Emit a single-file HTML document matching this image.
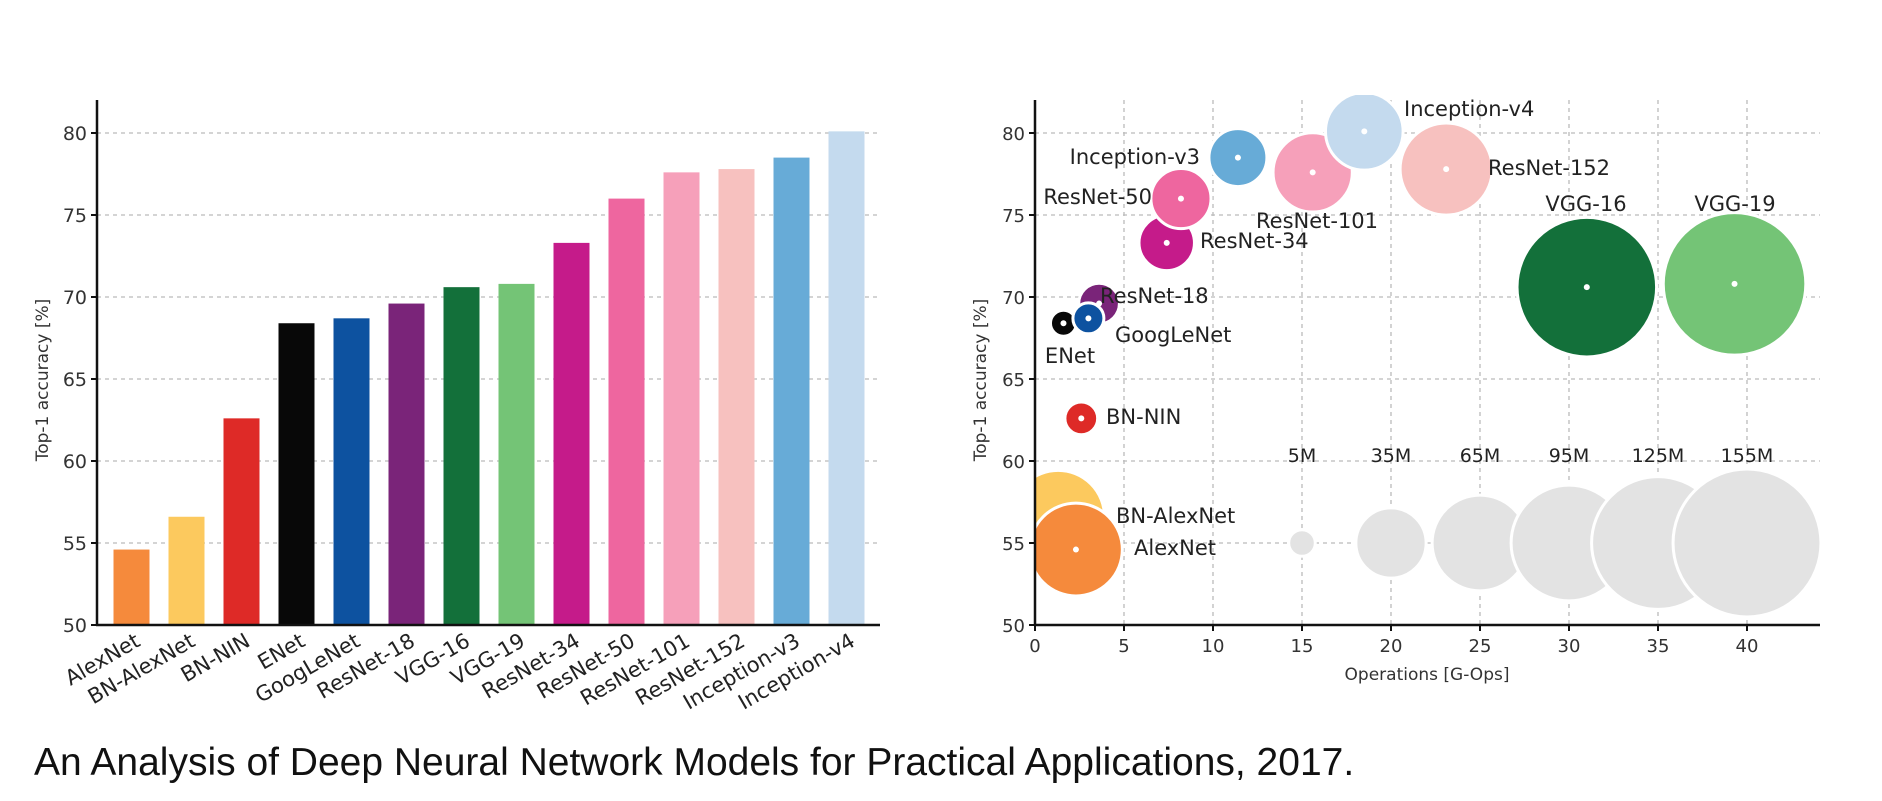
<!DOCTYPE html>
<html><head><meta charset="utf-8"><style>
html,body{margin:0;padding:0;background:#fff;}
svg{display:block;font-family:"DejaVu Sans","Liberation Sans",sans-serif;}
</style></head><body>
<svg id="s" width="1882" height="801" viewBox="0 0 1882 801">
<g id="left"></g>
<g id="right"></g>
<text x="34" y="775" font-family="Liberation Sans, sans-serif" font-size="39" fill="#111">An Analysis of Deep Neural Network Models for Practical Applications, 2017.</text>
</svg>
<script>
const models=["AlexNet","BN-AlexNet","BN-NIN","ENet","GoogLeNet","ResNet-18","VGG-16","VGG-19","ResNet-34","ResNet-50","ResNet-101","ResNet-152","Inception-v3","Inception-v4"];
const accuracy=[54.6,56.6,62.6,68.4,68.7,69.6,70.6,70.8,73.3,76.0,77.6,77.8,78.5,80.1];
const ops=[2.3,1.3,2.6,1.6,3.0,3.6,31.0,39.3,7.4,8.2,15.6,23.1,11.4,18.5];
const params=[61,61,7.6,0.4,6.8,11.7,138,144,21.8,25.6,44.5,60.2,23.8,42.7];
const colors=["#f58a3c","#fcc95e","#de2a27","#080808","#0d52a0","#7a2479","#13703a","#74c476","#c51b8a","#ee669f","#f6a0ba","#f7c1bf","#67abd7","#c4daee"];
const yTicks=[50,55,60,65,70,75,80];
const xTicks=[0,5,10,15,20,25,30,35,40];
const legendParams=[5,35,65,95,125,155];
const legendOps=[15,20,25,30,35,40];
const legendLabels=["5M","35M","65M","95M","125M","155M"];
const NS="http://www.w3.org/2000/svg";
function mk(p,tag,at,txt){const e=document.createElementNS(NS,tag);for(const k in at)e.setAttribute(k,at[k]);if(txt!==undefined)e.textContent=txt;p.appendChild(e);return e;}
const yS=v=>625-(v-50)*16.4;
// LEFT
const L=document.getElementById('left');
const bx=i=>131.5+i*55;
yTicks.forEach(t=>{
  if(t>50){const g=mk(L,'line',{x1:97,x2:880,y1:yS(t),y2:yS(t),stroke:'#bbb','stroke-dasharray':'4,4','stroke-width':1.3});
  
  }
  const tk=mk(L,'line',{x1:91,x2:97,y1:yS(t),y2:yS(t),stroke:'#111','stroke-width':2});
  
  
  const lb=mk(L,'text',{x:87,y:yS(t)+7,'text-anchor':'end','font-size':19,fill:'#333'},t);
  
  
});
models.forEach((m,i)=>{
  const r=mk(L,'rect',{x:bx(i)-18,y:yS(accuracy[i]),width:36,height:625-yS(accuracy[i]),fill:colors[i]});
  
  
  const t=mk(L,'text',{x:0,y:0,'text-anchor':'end','font-size':21,fill:'#222',transform:`translate(${bx(i)+10},${645}) rotate(-30)`},m);
  
  
});
let a=mk(L,'line',{x1:97,x2:97,y1:100,y2:626,stroke:'#111','stroke-width':2.5});


a=mk(L,'line',{x1:96,x2:880,y1:625,y2:625,stroke:'#111','stroke-width':2.5});


a=mk(L,'text',{x:0,y:0,'text-anchor':'middle','font-size':17,fill:'#333',transform:'translate(48,380) rotate(-90)'},'Top-1 accuracy [%]');


// RIGHT
const R=document.getElementById('right');
const xS=v=>1035+v*17.8;
const rad=p=>Math.max(13,5.94*Math.sqrt(p));
xTicks.forEach(t=>{
  if(t>0){const g=mk(R,'line',{x1:xS(t),x2:xS(t),y1:100,y2:625,stroke:'#bbb','stroke-dasharray':'4,4','stroke-width':1.3});
  
  }
  const tk=mk(R,'line',{x1:xS(t),x2:xS(t),y1:625,y2:631,stroke:'#111','stroke-width':2});
  
  
  const lb=mk(R,'text',{x:xS(t),y:652,'text-anchor':'middle','font-size':18,fill:'#333'},t);
  
  
});
yTicks.forEach(t=>{
  if(t>50){const g=mk(R,'line',{x1:1035,x2:1820,y1:yS(t),y2:yS(t),stroke:'#bbb','stroke-dasharray':'4,4','stroke-width':1.3});
  
  }
  const tk=mk(R,'line',{x1:1029,x2:1035,y1:yS(t),y2:yS(t),stroke:'#111','stroke-width':2});
  
  
  const lb=mk(R,'text',{x:1025,y:yS(t)+7,'text-anchor':'end','font-size':18,fill:'#333'},t);
  
  
});
const clip=mk(R,'clipPath',{id:'pc'});mk(clip,'rect',{x:1035,y:95,width:785,height:530});
const P=mk(R,'g',{'clip-path':'url(#pc)'});
legendParams.forEach((p,i)=>{
  const c=mk(P,'circle',{cx:xS(legendOps[i]),cy:yS(55),r:rad(p),fill:'#e3e3e3',stroke:'#fff','stroke-width':3});
  
  
  const t=mk(R,'text',{x:xS(legendOps[i]),y:462,'text-anchor':'middle','font-size':19,fill:'#222'},legendLabels[i]);
  
  
});
const order=[1,0,2,3,5,4,6,7,8,9,12,10,11,13];
order.forEach(i=>{
  const c=mk(P,'circle',{cx:xS(ops[i]),cy:yS(accuracy[i]),r:rad(params[i]),fill:colors[i],stroke:'#fff','stroke-width':3});
  
  
  const d=mk(P,'circle',{cx:xS(ops[i]),cy:yS(accuracy[i]),r:3,fill:'#fff'});
  
  
});
const lab=[[1134,555,'start'],[1116,523,'start'],[1106,424,'start'],[1070,363,'middle'],[1115,342,'start'],[1100,303,'start'],[1586,211,'middle'],[1735,211,'middle'],[1200,248,'start'],[1152,204,'end'],[1256,228,'start'],[1488,175,'start'],[1200,164,'end'],[1404,116,'start']];
models.forEach((m,i)=>{
  const t=mk(R,'text',{x:lab[i][0],y:lab[i][1],'text-anchor':lab[i][2],'font-size':21,fill:'#222'},m);
  
  
});
a=mk(R,'line',{x1:1035,x2:1035,y1:100,y2:626,stroke:'#111','stroke-width':2.5});


a=mk(R,'line',{x1:1034,x2:1820,y1:625,y2:625,stroke:'#111','stroke-width':2.5});


a=mk(R,'text',{x:1427,y:680,'text-anchor':'middle','font-size':17,fill:'#333'},'Operations [G-Ops]');


a=mk(R,'text',{x:0,y:0,'text-anchor':'middle','font-size':17,fill:'#333',transform:'translate(986,380) rotate(-90)'},'Top-1 accuracy [%]');


</script>
</body></html>
